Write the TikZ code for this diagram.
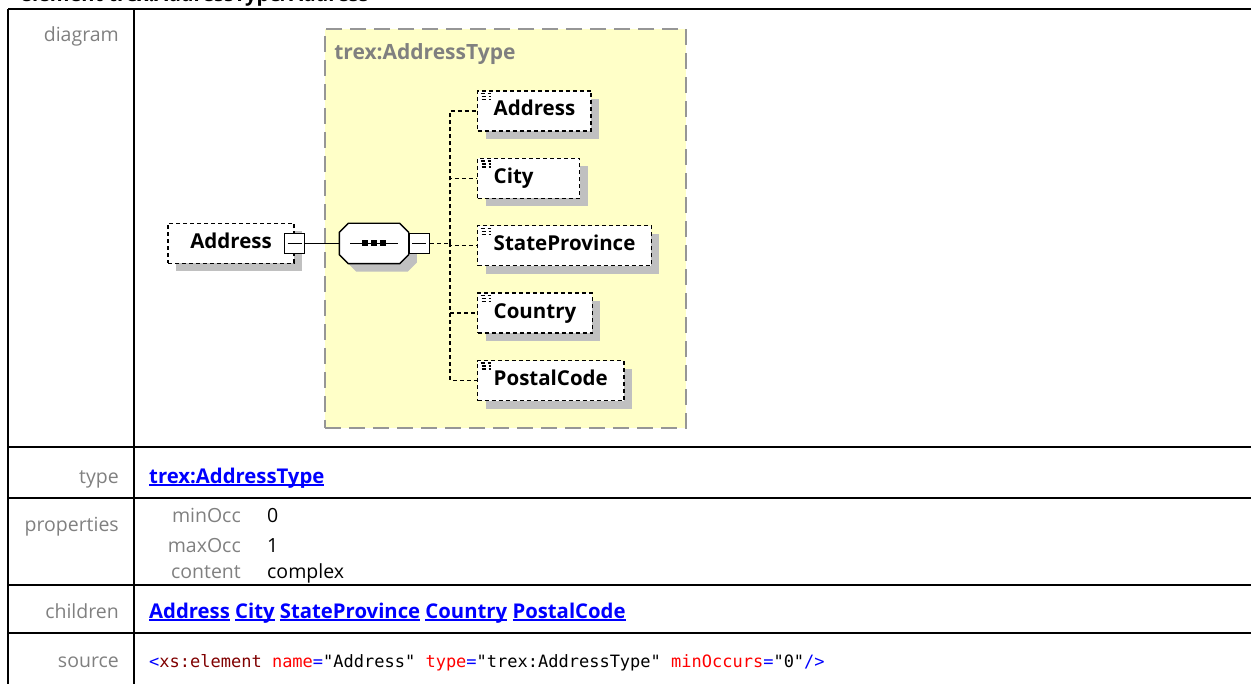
\documentclass[tikz,border=0pt]{standalone}
\usepackage{fontspec}
\setmainfont{Open Sans}
\newfontfamily\codefont{DejaVu Sans Mono}
\usetikzlibrary{positioning,shadows}
\definecolor{typeyellow}{RGB}{255,255,200}
\definecolor{typegray}{RGB}{150,150,150}
\definecolor{shadowgray}{RGB}{192,192,192}
\definecolor{labelgray}{RGB}{128,128,128}
\definecolor{linkblue}{RGB}{0,0,255}
\definecolor{tagred}{RGB}{128,0,0}
\definecolor{attrred}{RGB}{255,0,0}
\newcommand\xlink[1]{{\color{linkblue}\bfseries\setbox0\hbox{#1}\rlap{\rule[-2.6pt]{\wd0}{1.4pt}}\box0}}

\begin{document}
\begin{tikzpicture}[x=1pt, y=-1pt,
    every node/.style={font=\fontsize{19.5}{23}\selectfont},
    grid/.style={line width=2pt},
    rowlabel/.style={anchor=base east, text=labelgray, inner sep=0pt},
    propvalue/.style={anchor=base west, inner sep=0pt},
    linkvalue/.style={propvalue, font=\fontsize{20.3}{24}\selectfont},
    typebox/.style={draw=typegray, fill=typeyellow, line width=1.8pt, dash pattern=on 16pt off 8pt, minimum width=361pt, minimum height=399pt},
    typelabel/.style={anchor=base west, inner sep=0pt, text=labelgray, font=\fontsize{21}{25}\selectfont\bfseries},
    elembox/.style={draw, fill=white, line width=1.4pt, dash pattern=on 4pt off 3pt, minimum height=40pt, inner xsep=16pt, text height=14pt, text depth=4pt, font=\fontsize{20.5}{24}\selectfont\bfseries, drop shadow={shadow xshift=8pt, shadow yshift=-8pt, fill=shadowgray, opacity=1}},
    childbox/.style={elembox, path picture={
        \draw[line width=1.3pt] ([shift={(3,2.5)}]path picture bounding box.north west) -- ++(10,0)
            ([shift={(4,5.5)}]path picture bounding box.north west) -- ++(9,0)
            ([shift={(4,8.5)}]path picture bounding box.north west) -- ++(9,0);}},
    seqspace/.style={minimum width=69pt, minimum height=40pt, inner sep=0pt},
    seqbox/.style={draw, fill=white, line width=1.4pt, drop shadow={shadow xshift=8pt, shadow yshift=-8pt, fill=shadowgray, opacity=1}},
    minusbox/.style={draw, fill=white, line width=1.3pt, minimum size=20pt, inner sep=0pt, path picture={\draw[line width=1.2pt] ([xshift=3pt]path picture bounding box.west) -- ([xshift=-3pt]path picture bounding box.east);}},
    wire/.style={line width=1.4pt},
    branch/.style={line width=1.4pt, dash pattern=on 4pt off 3pt}
]
\useasboundingbox (0,0) rectangle (1251,684);
\node[anchor=base west, inner sep=0pt, font=\fontsize{20}{24}\selectfont\bfseries] (title) at (20,1.5) {element trex:AddressType/Address};

\draw[grid] (8,9) -- (1251,9);
\draw[grid] (8,447) -- (1251,447);
\draw[grid] (8,498) -- (1251,498);
\draw[grid] (8,585) -- (1251,585);
\draw[grid] (8,633) -- (1251,633);
\draw[grid] (8,9) -- (8,684);
\draw[grid] (134,9) -- (134,684);

\node[rowlabel] (ldiagram) at (119,42) {diagram};
\node[rowlabel] (ltype) at (119,483) {type};
\node[rowlabel] (lprops) at (119,532) {properties};
\node[rowlabel] (lchildren) at (119,618) {children};
\node[rowlabel] (lsource) at (119,667) {source};

\node[typebox] (atype) at (505.5,228.5) {};
\node[typelabel] (atypelabel) at ([shift={(10,31)}]atype.north west) {trex:AddressType};

\node[elembox, minimum width=126pt] (elem) at (231,243.5) {Address};
\node[minusbox] (m1) at (elem.east) {};
\node[seqspace, right=34pt of m1] (seq) {};
\path[seqbox] ([xshift=9pt]seq.north west) -- ([xshift=-9pt]seq.north east) -- ([yshift=-9pt]seq.north east) -- ([yshift=9pt]seq.south east) -- ([xshift=-9pt]seq.south east) -- ([xshift=9pt]seq.south west) -- ([yshift=9pt]seq.south west) -- ([yshift=-9pt]seq.north west) -- cycle;
\node[minusbox, right=0pt of seq] (m2) {};
\coordinate[right=20pt of m2] (fork);
\draw[line width=1.4pt] ([xshift=-24pt]seq.center) -- ([xshift=24pt]seq.center);
\fill ([xshift=-9pt]seq.center) +(-3,-3) rectangle +(3,3);
\fill (seq.center) +(-3,-3) rectangle +(3,3);
\fill ([xshift=9pt]seq.center) +(-3,-3) rectangle +(3,3);

\node[childbox, anchor=west] (c1) at (477,111) {Address};
\node[childbox, text width=70pt, below=26pt of c1.south west, anchor=north west] (c2) {City};
\node[childbox, below=26pt of c2.south west, anchor=north west] (c3) {StateProvince};
\node[childbox, below=26pt of c3.south west, anchor=north west] (c4) {Country};
\node[childbox, below=26pt of c4.south west, anchor=north west] (c5) {PostalCode};

\draw[wire] (m1) -- (seq);
\draw[branch] (m2) -- (fork);
\draw[branch] (fork) |- (c1);
\draw[branch] (fork) |- (c2);
\draw[branch] (fork) |- (c3);
\draw[branch] (fork) |- (c4);
\draw[branch] (fork) |- (c5);

\node[linkvalue] (vtype) at (149,483) {\xlink{trex:AddressType}};
\node[rowlabel] (lminocc) at (241,522) {minOcc};
\node[rowlabel] (lmaxocc) at (241,552) {maxOcc};
\node[rowlabel] (lcontent) at (241,578) {content};
\node[propvalue] (vminocc) at (267,522) {0};
\node[propvalue] (vmaxocc) at (267,552) {1};
\node[propvalue] (vcontent) at (267,578) {complex};
\node[linkvalue] (vchildren) at (149,618) {\xlink{Address} \xlink{City} \xlink{StateProvince} \xlink{Country} \xlink{PostalCode}};
\node[propvalue, font=\fontsize{17}{20}\codefont] (vsource) at (149,667) {\textcolor{linkblue}{<}\textcolor{tagred}{xs:element} \textcolor{attrred}{name}\textcolor{linkblue}{=}"Address" \textcolor{attrred}{type}\textcolor{linkblue}{=}"trex:AddressType" \textcolor{attrred}{minOccurs}\textcolor{linkblue}{=}"0"\textcolor{linkblue}{/>}};
\end{tikzpicture}
\end{document}
